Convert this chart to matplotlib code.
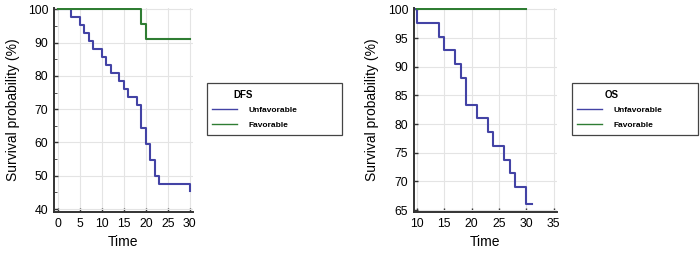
import matplotlib.pyplot as plt
from matplotlib.patches import Rectangle
from matplotlib.lines import Line2D

plt.rcParams['font.family'] = ['Liberation Sans', 'DejaVu Sans']

# DFS (left panel)
dfs_unfav_t = [0, 3, 5, 6, 7, 8, 10, 11, 12, 14, 15, 16, 18, 19, 20, 21, 22, 23, 30]
dfs_unfav_s = [100, 97.6, 95.2, 92.9, 90.5, 88.1, 85.7, 83.3, 81.0, 78.6, 76.2, 73.8, 71.4, 64.3, 59.5, 54.8, 50.0, 47.6, 45.5]
dfs_fav_t = [0, 19, 20, 30]
dfs_fav_s = [100, 95.6, 91.2, 91.2]

# OS (right panel)
os_unfav_t = [9.8, 10, 14, 15, 17, 18, 19, 21, 23, 24, 26, 27, 28, 30, 31]
os_unfav_s = [100, 97.6, 95.2, 92.9, 90.5, 88.1, 83.3, 81.0, 78.6, 76.2, 73.8, 71.4, 69.0, 66.0, 66.0]
os_fav_t = [10, 30]
os_fav_s = [100, 100]

blue = '#4343a5'
green = '#2f7d33'

fig = plt.figure(figsize=(7, 2.54), dpi=100)
ax1 = fig.add_axes([0.077, 0.165, 0.198, 0.805])
ax2 = fig.add_axes([0.591, 0.165, 0.204, 0.805])

def style(ax):
    for s in ['top', 'right']:
        ax.spines[s].set_visible(False)
    for s in ['left', 'bottom']:
        ax.spines[s].set_color('#333333')
        ax.spines[s].set_linewidth(1.4)
    ax.grid(True, color='#e4e4e4', linewidth=0.8)
    ax.set_axisbelow(True)
    ax.tick_params(direction='in', length=3, width=1, colors='#333333',
                   labelsize=8.8, labelcolor='black', pad=4)
    ax.set_xlabel('Time', fontsize=10, labelpad=4)
    ax.set_ylabel('Survival probability (%)', fontsize=10, labelpad=6)

ax1.step(dfs_unfav_t, dfs_unfav_s, where='post', color=blue, lw=1.5)
ax1.step(dfs_fav_t, dfs_fav_s, where='post', color=green, lw=1.5)
ax1.set_xlim(-0.9, 30.6)
ax1.set_ylim(39.1, 100.5)
ax1.set_xticks(range(0, 31, 5))
ax1.set_yticks(range(40, 101, 10))
ax1.set_yticks(range(45, 100, 10), minor=True)
style(ax1)
ax1.tick_params(which='minor', direction='in', length=2, colors='#333333')

ax2.step(os_unfav_t, os_unfav_s, where='post', color=blue, lw=1.5)
ax2.step(os_fav_t, os_fav_s, where='post', color=green, lw=1.5)
ax2.set_xlim(9.45, 35.5)
ax2.set_ylim(64.65, 100.3)
ax2.set_xticks(range(10, 36, 5))
ax2.set_yticks(range(65, 101, 5))
style(ax2)

handles = [Line2D([], [], color=blue, lw=1), Line2D([], [], color=green, lw=1)]
labels = ['Unfavorable', 'Favorable']

for (x0, y0, w, h, title, tx) in [(0.296, 0.469, 0.193, 0.204, 'DFS', 0.333),
                                  (0.817, 0.469, 0.180, 0.204, 'OS', 0.864)]:
    fig.patches.append(Rectangle((x0, y0), w, h, transform=fig.transFigure,
                                 fill=False, edgecolor='#444444', lw=0.9))
    fig.text(tx, 0.626, title, fontsize=7, fontweight='bold', va='center')
    fig.legend(handles, labels, loc='upper left',
               bbox_to_anchor=(x0, y0 + h - 0.07), frameon=False,
               prop={'size': 6, 'weight': 'bold'},
               handlelength=3.0, handletextpad=1.4, labelspacing=0.85,
               borderaxespad=0.2)

fig.savefig('out.png', dpi=100)
